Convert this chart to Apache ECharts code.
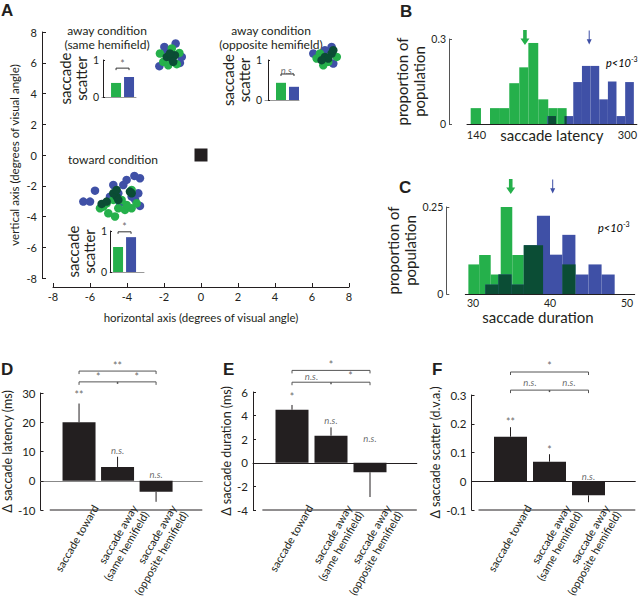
<!DOCTYPE html>
<html><head><meta charset="utf-8">
<script src="https://cdn.jsdelivr.net/npm/echarts@6/dist/echarts.min.js"></script>
<style>html,body{margin:0;padding:0;background:#fff}#c{width:640px;height:600px}</style>
</head><body><div id="c"></div>
<script>
// ---------------- Panel A: saccade end points (deg) ----------------
const blueEnds = [
  [-2.25,5.78],[-1.98,7.03],[-1.37,7.25],[-1.04,6.38],[-1.85,6.82],[-1.14,5.99],
  [6.07,6.6],[7.06,7.03],[7.15,5.95],[6.7,6.82],
  [-6.36,-3.03],[-6.0,-3.03],[-5.73,-2.32],[-4.74,-1.95],[-4.47,-2.49],[-4.2,-1.95],[-4.02,-1.62],
  [-3.6,-1.36],[-3.3,-1.51],[-3.39,-2.49],[-3.3,-3.31],[-3.57,-2.88],[-4.92,-2.71],[-3.75,-2.71],[-4.38,-3.14]
];
const greenEnds = [
  [-2.22,6.6],[-2.04,6.06],[-1.31,5.91],[-1.17,6.64],[-1.77,5.84],[-1.58,6.93],
  [6.43,6.6],[6.61,5.84],[7.34,6.38],[6.88,6.06],[6.25,6.28],
  [-5.28,-3.36],[-5.46,-3.46],[-5.01,-3.79],[-4.65,-4.0],[-4.47,-3.46],[-4.11,-3.57],[-3.75,-3.46],
  [-3.48,-3.14],[-4.02,-3.25],[-4.74,-2.92],[-4.29,-2.92],[-3.75,-2.27],[-5.1,-3.14]
];
const overlapEnds = [
  [-1.85,6.38],[-1.58,6.28],[-1.41,6.49],[-1.5,6.06],[-1.68,6.6],
  [6.7,6.38],[7.06,6.6],[6.88,6.28],[7.15,6.82],[6.52,6.17],
  [-5.37,-3.18],[-5.1,-3.03],[-4.56,-2.71],[-4.47,-2.92],[-4.74,-2.49],[-3.84,-2.38],[-3.75,-2.49],[-4.56,-2.27]
];
const fixation = [[0,0]];

// insets: saccade scatter [green, blue]
const insetSame = [0.38, 0.54];
const insetOpp = [0.43, 0.33];
const insetToward = [0.61, 0.85];
const insetSig = ['*', 'n.s.', '*'];

// ---------------- Panel B: latency histograms [binStart, binEnd, proportion] ----------------
const latGreen = [[133.9,144.8,0.056],[154.4,164.9,0.056],[164.9,174.8,0.056],[174.8,185.4,0.144],[185.4,195,0.2],[195,205.5,0.286],[205.5,216.1,0.087],[216.1,226,0.056],[226,235.6,0.056]];
const latBlue = [[215.1,224.3,0.028],[233.4,242.6,0.028],[242.6,251.8,0.148],[251.8,260.9,0.205],[260.9,270.1,0.205],[270.1,279.3,0.087],[279.3,288.4,0.15],[288.4,297.6,0.028],[297.6,306.8,0.148]];
const latOverlap = [[216.1,224.3,0.028],[233.4,235.6,0.028]];
const latMeans = [191.4, 259.5];

// ---------------- Panel C: duration histograms ----------------
const durGreen = [[29.4,30.8,0.085],[30.8,32.3,0.112],[32.3,33.6,0.056],[33.6,35.1,0.25],[35.1,36.6,0.112],[36.6,39.1,0.14],[41.6,43.3,0.085]];
const durBlue = [[31.6,33.3,0.027],[33.3,35.0,0.056],[35.0,36.6,0.027],[36.6,38.3,0.14],[38.3,40.0,0.225],[40.0,41.6,0.113],[41.6,43.3,0.17],[43.3,45.0,0.056],[45.0,46.7,0.085],[46.7,48.4,0.056]];
const durOverlap = [[31.6,33.3,0.027],[33.3,35.0,0.056],[35.0,36.6,0.027],[36.6,39.1,0.14],[41.6,43.3,0.085]];
const durMeans = [34.9, 40.35];

// ---------------- Panels D-F: difference bars ----------------
const conditions = ['saccade toward', 'saccade away\n(same hemifield)', 'saccade away\n(opposite hemifield)'];
const condPos = [1, 2, 3];
const latDiff = [20, 4.7, -3.8];
const latErrEnd = [26.4, 8.2, -7.2];
const latSig = ['**', 'n.s.', 'n.s.'];
const durDiff = [4.5, 2.3, -0.8];
const durErrEnd = [4.9, 3.0, -2.9];
const durSig = ['*', 'n.s.', 'n.s.'];
const scatDiff = [0.155, 0.068, -0.049];
const scatErrEnd = [0.188, 0.094, -0.073];
const scatSig = ['**', '*', 'n.s.'];
// pairwise comparisons: [toward vs opposite], [toward vs same], [same vs opposite]
const latPair = ['**', '*', '*'];
const durPair = ['*', 'n.s.', '*'];
const scatPair = ['*', 'n.s.', 'n.s.'];

// ---------------- styling ----------------
const INK = '#231f20';
const GREEN = '#25b04b';
const BLUE = '#3f50a6';
const DARK = '#0b4d35';
const FONT = 'Lato';

const grids = [], xAxes = [], yAxes = [], series = [];
function addGrid(g, x, y) { grids.push(g); xAxes.push(Object.assign({gridIndex: grids.length-1}, x)); yAxes.push(Object.assign({gridIndex: grids.length-1}, y)); return grids.length-1; }

const tickLab = (fs) => ({fontFamily: FONT, fontSize: fs, color: INK});

// ---- A main ----
const gA = addGrid({left:53, top:32, width:296, height:246},
  {type:'value', min:-8, max:8, interval:2, offset:9,
   axisLine:{onZero:false, lineStyle:{color:INK}}, axisTick:{inside:true, length:4, lineStyle:{color:INK}},
   axisLabel:Object.assign({margin:4}, tickLab(11)), splitLine:{show:false},
   name:'horizontal axis (degrees of visual angle)', nameLocation:'middle', nameGap:24,
   nameTextStyle:{fontFamily:FONT, fontSize:11.5, color:INK}},
  {type:'value', min:-8, max:8, interval:2, offset:11,
   axisLine:{onZero:false, lineStyle:{color:INK}}, axisTick:{inside:true, length:4, lineStyle:{color:INK}},
   axisLabel:Object.assign({margin:5}, tickLab(11)), splitLine:{show:false},
   name:'vertical axis (degrees of visual angle)', nameLocation:'middle', nameGap:22,
   nameTextStyle:{fontFamily:FONT, fontSize:11.5, color:INK}});
function dots(data, color) { return {type:'scatter', xAxisIndex:gA, yAxisIndex:gA, data, symbolSize:8.5, itemStyle:{color, opacity:1}, clip:false}; }
series.push(dots(blueEnds, BLUE), dots(greenEnds, GREEN), dots(overlapEnds, DARK));
series.push({type:'scatter', xAxisIndex:gA, yAxisIndex:gA, data:fixation, symbol:'rect', symbolSize:13, itemStyle:{color:INK, opacity:1}});

// ---- helpers ----
function bracketSeries(g, data, color, tick) {
  return {type:'custom', xAxisIndex:g, yAxisIndex:g, data, clip:false, silent:true,
    encode:{x:[0,1], y:2},
    renderItem:(p, api) => {
      const a = api.coord([api.value(0), api.value(2)]);
      const b = api.coord([api.value(1), api.value(2)]);
      const kids = [{type:'polyline', shape:{points:[[a[0], a[1]+tick],[a[0], a[1]],[b[0], b[1]],[b[0], b[1]+tick]]}, style:{stroke:color, fill:null, lineWidth:1}}];
      if (api.value(3)) { const m = (a[0]+b[0])/2; kids.push({type:'line', shape:{x1:m, y1:a[1], x2:m, y2:a[1]+2}, style:{stroke:color, lineWidth:1.5}}); }
      return {type:'group', children:kids};
    }};
}
function sigSeries(g, items, fs) {
  return {type:'scatter', xAxisIndex:g, yAxisIndex:g, clip:false, silent:true, symbolSize:0.1,
    itemStyle:{color:'transparent'},
    data: items.map(d => ({value:[d[0], d[1]], name:d[2]})),
    label:{show:true, position:'inside', formatter: p => p.name === 'n.s.' ? '{i|n.s.}' : '{b|' + p.name + '}',
      rich:{i:{fontStyle:'italic', fontFamily:FONT, fontSize:fs, color:'#444'}, b:{fontFamily:FONT, fontSize:fs+1, color:'#444'}}}};
}

// ---- insets ----
function inset(left, top, height, xmin, values, sig, bracketY) {
  const g = addGrid({left, top, width:34, height},
    {type:'value', min:xmin, max:xmin+34/13, axisLine:{onZero:true, lineStyle:{color:'#999'}}, axisTick:{show:false}, axisLabel:{show:false}, splitLine:{show:false}},
    {type:'value', min:0, max:1, interval:1, axisLine:{lineStyle:{color:INK}}, axisTick:{inside:true, length:2, lineStyle:{color:INK}},
     axisLabel:Object.assign({margin:3}, tickLab(10.5)), splitLine:{show:false},
     name:'saccade\nscatter', nameLocation:'middle', nameRotate:90, nameGap:12,
     nameTextStyle:{fontFamily:FONT, fontSize:15, lineHeight:16, color:INK}});
  series.push({type:'bar', xAxisIndex:g, yAxisIndex:g, barWidth:10,
    data:[{value:[1, values[0]], itemStyle:{color:GREEN}}, {value:[2, values[1]], itemStyle:{color:BLUE}}]});
  series.push(bracketSeries(g, [[1, 2, bracketY, 0]], '#333', 2));
  series.push(sigSeries(g, [[1.5, bracketY + (sig === '*' ? 0.11 : 0.1), sig]], 9.5));
}
inset(102, 60, 37, -0.08, insetSame, insetSig[0], 0.78);
inset(265, 60, 40, -0.23, insetOpp, insetSig[1], 0.65);
inset(110, 231, 41, 0.38, insetToward, insetSig[2], 0.98);

// ---- histograms ----
function histSeries(g, data, color) {
  return {type:'custom', xAxisIndex:g, yAxisIndex:g, data, encode:{x:[0,1], y:2},
    renderItem:(p, api) => {
      const a = api.coord([api.value(0), api.value(2)]);
      const b = api.coord([api.value(1), 0]);
      return {type:'rect', shape:{x:a[0], y:a[1], width:b[0]-a[0], height:b[1]-a[1]}, style:{fill:color}};
    }};
}
function arrowSeries(g, pts) {
  return {type:'scatter', xAxisIndex:g, yAxisIndex:g, clip:false, silent:true,
    data:[
      {value:pts[0], symbol:'path://M3,0 L7,0 L7,9 L10,9 L5,16 L0,9 L3,9 Z', symbolSize:[9,15], itemStyle:{color:GREEN, opacity:1}},
      {value:pts[1], symbol:'path://M2.4,0 L3.6,0 L3.6,10 L6,10 L3,16 L0,10 L2.4,10 Z', symbolSize:[5,14], itemStyle:{color:BLUE, opacity:1}}
    ]};
}
function histGrid(grid, xmin, xmax, xint, shown, ymax, yoff, xname, nameGap, namePad, labFs, labMargin) {
  return addGrid(grid,
    {type:'value', min:xmin, max:xmax, interval:xint, axisLine:{onZero:false, lineStyle:{color:INK}}, axisTick:{show:false},
     axisLabel:Object.assign({margin:labMargin, formatter: v => shown.indexOf(v) >= 0 ? String(v) : ''}, tickLab(labFs)), splitLine:{show:false},
     name:xname, nameLocation:'middle', nameGap:nameGap, nameMoveOverlap:false,
     nameTextStyle:{fontFamily:FONT, fontSize:15, color:INK, padding:namePad}},
    {type:'value', min:0, max:ymax, interval:ymax, offset:yoff, axisLine:{onZero:false, lineStyle:{color:'#555'}},
     axisTick:{inside:true, length:3, lineStyle:{color:'#555'}}, axisLabel:Object.assign({margin:3}, tickLab(10.5)), splitLine:{show:false},
     name:'proportion of\npopulation', nameLocation:'middle', nameRotate:90, nameGap:14,
     nameTextStyle:{fontFamily:FONT, fontSize:15, lineHeight:17, color:INK}});
}
const gB = histGrid({left:467, top:39, width:170, height:85}, 130, 310, 10, [140, 300], 0.3, 18, 'saccade latency', 3, [0,0,0,0], 11, 5);
series.push(histSeries(gB, latGreen, GREEN), histSeries(gB, latBlue, BLUE), histSeries(gB, latOverlap, DARK));
series.push(arrowSeries(gB, [[latMeans[0], 0.305], [latMeans[1], 0.305]]));
const gC = histGrid({left:465.3, top:207, width:169.4, height:87}, 29, 51, 1, [30, 40, 50], 0.25, 19, 'saccade duration', 15, [0,24,0,0], 10.5, 3);
series.push(histSeries(gC, durGreen, GREEN), histSeries(gC, durBlue, BLUE), histSeries(gC, durOverlap, DARK));
series.push(arrowSeries(gC, [[durMeans[0], 0.309], [durMeans[1], 0.309]]));

// ---- difference bar panels ----
function diffPanel(left, top, height, ymin, ymax, yint, zeroColor, yname, means, errs, sig, pairs, geom) {
  const g = addGrid({left, top, width:163.8, height},
    {type:'value', min:0, max:4.2, axisLine:{onZero:true, lineStyle:{color:zeroColor}}, axisTick:{show:false}, axisLabel:{show:false}, splitLine:{show:false}},
    {type:'value', min:ymin, max:ymax, interval:yint, axisLine:{onZero:false, lineStyle:{color:INK}},
     axisTick:{inside:true, length:3, lineStyle:{color:INK}}, axisLabel:Object.assign({margin:5}, tickLab(11.5)), splitLine:{show:false},
     name:yname, nameLocation:'middle', nameGap:geom.nameGap, nameTextStyle:{fontFamily:FONT, fontSize:12.5, color:INK}});
  series.push({type:'bar', xAxisIndex:g, yAxisIndex:g, barWidth:33, itemStyle:{color:INK},
    data: condPos.map((c, i) => [c, means[i]])});
  series.push({type:'custom', xAxisIndex:g, yAxisIndex:g, clip:false, data: condPos.map((c, i) => [c, means[i], errs[i]]),
    renderItem:(p, api) => {
      const a = api.coord([api.value(0), api.value(1)]);
      const b = api.coord([api.value(0), api.value(2)]);
      return {type:'line', shape:{x1:a[0], y1:a[1], x2:b[0], y2:b[1]}, style:{stroke:INK, lineWidth:1}};
    }});
  // bottom axis line (offset, MATLAB style)
  series.push({type:'line', xAxisIndex:g, yAxisIndex:g, clip:false, silent:true, symbol:'none',
    lineStyle:{color:INK, width:1}, data:[[geom.bottomStart, ymin], [4.2, ymin]]});
  // brackets
  series.push(bracketSeries(g, [[1, 3, geom.upper, 0], [1, 3, geom.lower, 1]], '#555', 3));
  series.push(sigSeries(g, condPos.map((c, i) => [c, geom.barSig[i], sig[i]]), 9.5));
  series.push(sigSeries(g, [[2, geom.upperLab, pairs[0]], [1.5, geom.lowerLab, pairs[1]], [2.5, geom.lowerLab, pairs[2]]], 9.5));
  // category labels
  addGrid({left: left + 31.5, top: top, width:117, height: height},
    {type:'category', data: conditions, axisLine:{show:false}, axisTick:{show:false},
     axisLabel:{interval:0, rotate:60, margin:4, verticalAlign:'top', fontFamily:FONT, fontSize:11, lineHeight:13, color:INK}},
    {type:'value', show:false});
  return g;
}
diffPanel(38.5, 393, 117, -10, 30, 10, '#888', 'Δ saccade latency (ms)', latDiff, latErrEnd, latSig, latPair,
  {nameGap:18, bottomStart:0.24, upper:37.5, lower:33.8, upperLab:39.3, lowerLab:35.6, barSig:[29.3, 10.2, 2.3]});
diffPanel(253, 392, 118, -4, 6, 2, INK, 'Δ saccade duration (ms)', durDiff, durErrEnd, durSig, durPair,
  {nameGap:18, bottomStart:0.24, upper:7.83, lower:6.83, upperLab:8.3, lowerLab:7.33, barSig:[5.6, 3.6, 2.1]});
diffPanel(471.5, 395, 115, -0.1, 0.3, 0.1, INK, 'Δ saccade scatter (d.v.a.)', scatDiff, scatErrEnd, scatSig, scatPair,
  {nameGap:18, bottomStart:0.18, upper:0.38, lower:0.317, upperLab:0.40, lowerLab:0.342, barSig:[0.206, 0.109, 0.018]});

// ---- free text ----
function txt(x, y, text, opts) {
  return {type:'text', x, y, silent:true,
    style:Object.assign({text, fontFamily:FONT, fontSize:12, fill:INK, align:'center', verticalAlign:'middle', textAlign:'center', textVerticalAlign:'middle'}, opts || {})};
}
const letter = (x, y, t) => txt(x, y, t, {fontSize:17, fontWeight:'bold', fontFamily:'Liberation Sans', align:'left', textAlign:'left'});
const pRich = {i:{fontStyle:'italic', fontFamily:FONT, fontSize:11, color:INK}, s:{fontFamily:FONT, fontSize:7, color:INK, verticalAlign:'top', padding:[0,0,6,0]}};
const graphic = [
  letter(1, 10, 'A'), letter(400, 11, 'B'), letter(399, 187, 'C'), letter(1, 369, 'D'), letter(223, 369, 'E'), letter(432, 369, 'F'),
  txt(107, 30, 'away condition'), txt(107, 44, '(same hemifield)'),
  txt(271, 30, 'away condition'), txt(271, 44, '(opposite hemifield)'),
  txt(113, 159, 'toward condition'),
  {type:'text', x:606, y:62, silent:true, style:{text:'{i|p<10}{s|-3}', rich:pRich, verticalAlign:'middle', textVerticalAlign:'middle'}},
  {type:'text', x:598, y:227, silent:true, style:{text:'{i|p<10}{s|-3}', rich:pRich, verticalAlign:'middle', textVerticalAlign:'middle'}}
];

const chart = echarts.init(document.getElementById('c'), null, {renderer:'svg'});
chart.setOption({
  animation:false, backgroundColor:'#fff',
  textStyle:{fontFamily:FONT},
  grid:grids, xAxis:xAxes, yAxis:yAxes, series, graphic
});
</script></body></html>
